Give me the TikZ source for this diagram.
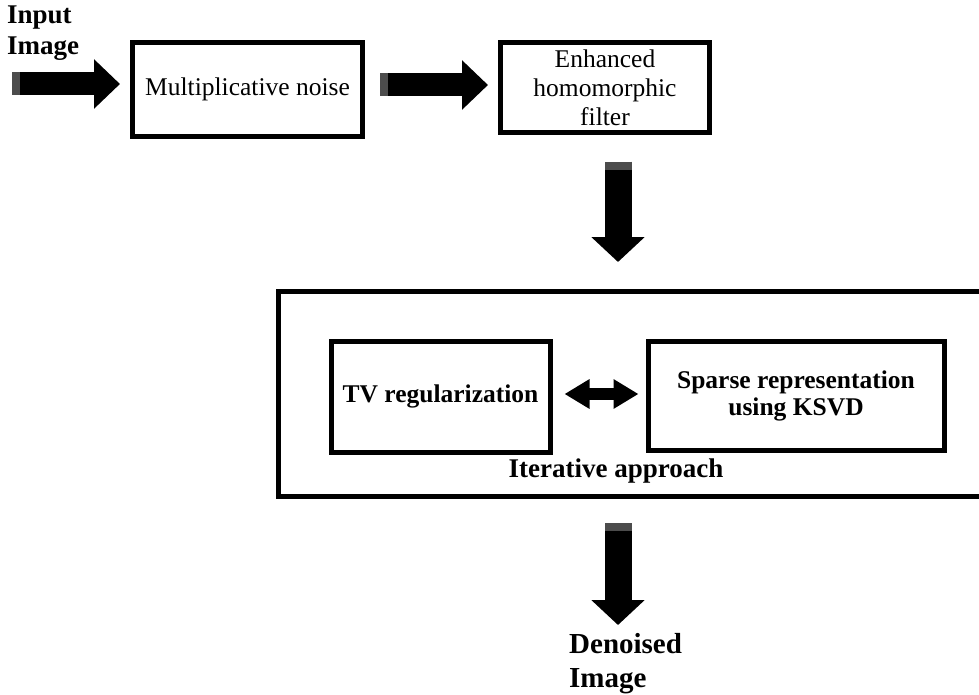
\documentclass[tikz,border=0pt]{standalone}
\usepackage{fontspec}
\setmainfont{Liberation Serif}
\usepackage{tikz}
\usetikzlibrary{arrows.meta,positioning,calc}

\tikzset{
  block/.style={draw, line width=5pt, align=center, inner sep=2pt},
  plaintext/.style={font=\fontsize{25.5}{29}\selectfont},
  boldtext/.style={font=\fontsize{25.5}{27}\selectfont\bfseries},
  bigbold/.style={font=\fontsize{27}{31}\selectfont\bfseries},
  fatarrow/.style={line width=23pt, -{Triangle[length=26pt,width=48pt]}},
  downarrow/.style={line width=27pt, -{Triangle[length=25pt,width=52pt]}},
  twoway/.style={line width=12pt, {Triangle[length=25pt,width=28pt]}-{Triangle[length=25pt,width=28pt]}},
  tailband/.style={black!70}
}

\begin{document}
\begin{tikzpicture}[x=1pt,y=-1pt]
    \clip (0,0) rectangle (979,695);
    \fill[white] (0,0) rectangle (979,695);

    % top row
    \node[bigbold, align=left, anchor=north west, inner sep=0pt] (input) at (7,6) {Input\\Image};
    \node[block, plaintext, minimum width=230pt, minimum height=94pt] (noise) at (247.5,89.5) {Multiplicative noise};
    \node[block, plaintext, minimum width=209pt, minimum height=90pt] (filter) at (605,87.5) {Enhanced\\homomorphic\\filter};

    \coordinate (in) at (12,84);
    \draw[fatarrow, shorten >=10pt] (in) -- (noise.west |- in);
    \draw[tailband, line width=23pt] (in) -- ++(8,0);

    \coordinate (a2) at ($(noise.east)+(15,-4.5)$);
    \draw[fatarrow, shorten >=10pt] (a2) -- (filter.west |- a2);
    \draw[tailband, line width=23pt] (a2) -- ++(8,0);

    % iterative block
    \node[draw, line width=5pt, minimum width=722pt, minimum height=205pt] (iter) at (639,394) {};
    \node[block, boldtext, minimum width=219pt, minimum height=111pt] (tv) at (440.5,396.5) {TV regularization};
    \node[block, boldtext, minimum width=296pt, minimum height=109pt] (sparse) at (796,395.5) {Sparse representation\\using KSVD};
    \node[bigbold] (iterlabel) at (616,471) {Iterative approach};

    \draw[twoway, shorten <=12pt, shorten >=7pt] (tv.east |- 0,394) -- (sparse.west |- 0,394);

    % down arrows
    \coordinate (d1top) at ($(filter.south)+(13,27)$);
    \draw[downarrow, shorten >=27pt] (d1top) -- (d1top |- iter.north);
    \draw[tailband, line width=27pt] (d1top) -- ++(0,8);

    \coordinate (d2top) at ($(d1top |- iter.south)+(0,24)$);
    \node[bigbold, font=\fontsize{29}{34}\selectfont\bfseries, align=left, anchor=north west, inner sep=0pt] (denoised) at (569,633) {Denoised\\Image};
    \draw[downarrow, shorten >=8pt] (d2top) -- (d2top |- denoised.north);
    \draw[tailband, line width=27pt] (d2top) -- ++(0,8);
\end{tikzpicture}
\end{document}
